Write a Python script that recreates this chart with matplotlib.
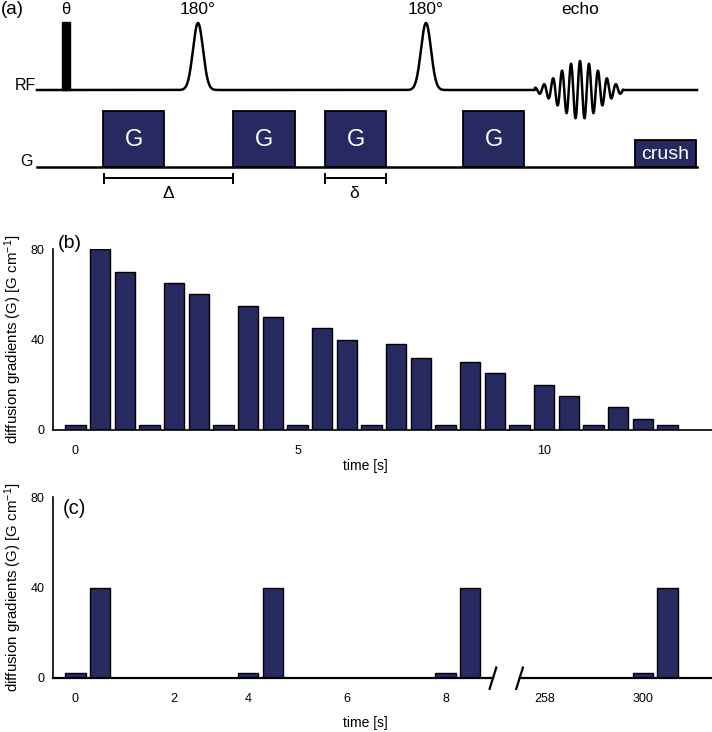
import numpy as np
import matplotlib
matplotlib.use('Agg')
import matplotlib.pyplot as plt
from matplotlib.patches import Rectangle

plt.rcParams['font.family'] = ['Liberation Sans', 'DejaVu Sans']
plt.rcParams['mathtext.fontset'] = 'custom'
plt.rcParams['mathtext.rm'] = 'Liberation Sans'
plt.rcParams['mathtext.it'] = 'Liberation Sans:italic'

NAVY = '#262a60'

# ---------------- Panel (b) data ----------------
b_pos = list(range(25))
b_vals = [2, 80, 70, 2, 65, 60, 2, 55, 50, 2, 45, 40, 2, 38, 32,
          2, 30, 25, 2, 20, 15, 2, 10, 5, 2]
b_tick_pos = [0, 9, 19]
b_tick_labels = ['0', '5', '10']

# ---------------- Panel (c) data ----------------
c_pos = [0, 1, 7, 8, 15, 16, 23, 24]
c_vals = [2, 40, 2, 40, 2, 40, 2, 40]
c_tick_pos = [0, 4, 7, 11, 15, 19, 23]
c_tick_labels = ['0', '2', '4', '6', '8', '258', '300']
c_break = [16.92, 18.0]

y_ticks = [0, 40, 80]
ylabel = r'diffusion gradients (G) [G cm$^{-1}$]'

# ---------------- Panel (a) sequence diagram (pixel space) ----------------
rf_base, g_base = 90, 167
line_x = [37, 697]
theta_pulse = [62, 70, 22]           # x0, x1, top
pulse_centers = [198, 426]
pulse_height = 67
echo_center = 580
grad_blocks = [(103, 164), (233, 295), (325, 386), (463, 524)]
grad_top = 111
crush_block = (635, 696, 140)
brackets = [(104, 233, 'Δ'), (325, 386, 'δ')]

W, H = 712, 732
fig = plt.figure(figsize=(W / 100, H / 100), dpi=100)

ax_a = fig.add_axes([0, 0, 1, 1])
ax_a.set_xlim(0, W)
ax_a.set_ylim(H, 0)
ax_a.axis('off')

# RF line with pulses and echo
x = np.linspace(line_x[0], line_x[1], 5000)
y = np.zeros_like(x)
for c in pulse_centers:
    y += pulse_height * np.exp(-((x - c) ** 2) / (2 * 5.0 ** 2))
mask = (x > 535) & (x < 623)
y += np.where(mask, 29 * np.exp(-((x - echo_center) ** 2) / (2 * 20.0 ** 2))
              * np.cos(2 * np.pi * (x - echo_center) / 9.0), 0)
ax_a.plot(x, rf_base - y, color='black', lw=1.8, solid_joinstyle='round')
ax_a.add_patch(Rectangle((theta_pulse[0], theta_pulse[2]), theta_pulse[1] - theta_pulse[0],
                         rf_base - theta_pulse[2], color='black'))

# G line
ax_a.plot(line_x, [g_base, g_base], color='black', lw=1.8)
for x0, x1 in grad_blocks:
    ax_a.add_patch(Rectangle((x0, grad_top), x1 - x0, g_base - grad_top,
                             facecolor=NAVY, edgecolor='black', lw=1.3, zorder=3))
    ax_a.text((x0 + x1) / 2, (grad_top + g_base) / 2 + 1, 'G', color='white',
              ha='center', va='center', fontsize=17, zorder=4)
cx0, cx1, ctop = crush_block
ax_a.add_patch(Rectangle((cx0, ctop), cx1 - cx0, g_base - ctop,
                         facecolor=NAVY, edgecolor='black', lw=1.3, zorder=3))
ax_a.text((cx0 + cx1) / 2, (ctop + g_base) / 2 + 1, 'crush', color='white',
          ha='center', va='center', fontsize=14, zorder=4)

for x0, x1, lab in brackets:
    ax_a.plot([x0, x1], [178, 178], color='black', lw=1.4)
    ax_a.plot([x0, x0], [174, 183], color='black', lw=1.4)
    ax_a.plot([x1, x1], [174, 183], color='black', lw=1.4)
    ax_a.text((x0 + x1) / 2 + (0 if lab == 'Δ' else -1), 193, lab, ha='center',
              va='center', fontsize=12.5)

ax_a.text(1, 10, '(a)', ha='left', va='center', fontsize=13.5)
ax_a.text(66, 10, 'θ', ha='center', va='center', fontsize=12)
for c in pulse_centers:
    ax_a.text(c, 10, '180°', ha='center', va='center', fontsize=12.5)
ax_a.text(echo_center, 10, 'echo', ha='center', va='center', fontsize=12.5)
ax_a.text(36, 85, 'RF', ha='right', va='center', fontsize=11.5)
ax_a.text(33, 162, 'G', ha='right', va='center', fontsize=11.5)

# ---------------- Panels (b) and (c) ----------------
left = 53 / W
width = (W - 53) / W
xlim = (-0.912, 25.8)


def style(ax, tick_pos, tick_labels, label_y):
    ax.set_xlim(*xlim)
    ax.set_ylim(0, 80)
    for s in ['top', 'right']:
        ax.spines[s].set_visible(False)
    ax.spines['left'].set_linewidth(1.2)
    ax.spines['bottom'].set_linewidth(1.2)
    ax.set_yticks(y_ticks)
    ax.set_xticks(tick_pos)
    ax.set_xticklabels(tick_labels)
    ax.tick_params(axis='y', length=0, pad=6, labelsize=9)
    ax.tick_params(axis='x', length=0, pad=11, labelsize=9)
    ax.set_xlabel('time [s]', fontsize=10)
    ax.xaxis.set_label_coords((365 - 53) / (W - 53), label_y)
    ax.set_ylabel(ylabel, fontsize=10.8)
    ax.yaxis.set_label_coords(-0.044, 0.5)
    ax.patch.set_alpha(0)


ax_b = fig.add_axes([left, 1 - 430 / H, width, 181 / H])
ax_b.bar(b_pos, b_vals, width=0.83, color=NAVY, edgecolor='black', lw=1.0)
style(ax_b, b_tick_pos, b_tick_labels, -0.16)
fig.text(58 / W, 1 - 243 / H, '(b)', ha='left', va='center', fontsize=14)

ax_c = fig.add_axes([left, 1 - 678 / H, width, 181 / H])
ax_c.bar(c_pos, c_vals, width=0.83, color=NAVY, edgecolor='black', lw=1.0)
style(ax_c, c_tick_pos, c_tick_labels, -0.21)
ax_c.spines['bottom'].set_visible(False)
ax_c.plot([xlim[0], c_break[0]], [0, 0], color='black', lw=1.6, clip_on=False)
ax_c.plot([c_break[1], xlim[1]], [0, 0], color='black', lw=1.6, clip_on=False)
for bx in c_break:
    ax_c.plot([bx - 0.135, bx + 0.135], [-4.8, 4.6], color='black', lw=1.6, clip_on=False)
fig.text(63 / W, 1 - 508 / H, '(c)', ha='left', va='center', fontsize=14.5)

fig.savefig('out.png', dpi=100)
